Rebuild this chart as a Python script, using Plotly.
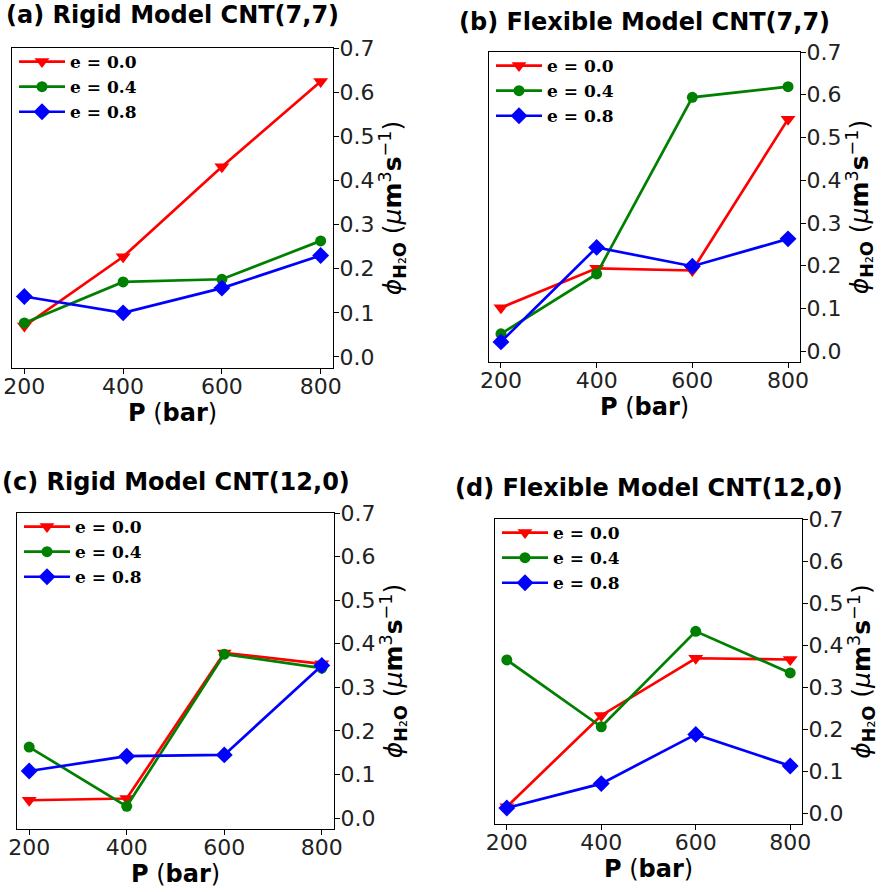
import plotly.graph_objects as go

W, H = 885, 892

# ---------------- data ----------------
pressure = [200, 400, 600, 800]
series_labels = ["e = 0.0", "e = 0.4", "e = 0.8"]
panel_titles = ["(a) Rigid Model CNT(7,7)", "(b) Flexible Model CNT(7,7)",
                "(c) Rigid Model CNT(12,0)", "(d) Flexible Model CNT(12,0)"]
y_ticks = [0.0, 0.1, 0.2, 0.3, 0.4, 0.5, 0.6, 0.7]

a_e00 = [0.070, 0.227, 0.431, 0.624]
a_e04 = [0.077, 0.170, 0.176, 0.263]
a_e08 = [0.137, 0.100, 0.156, 0.230]

b_e00 = [0.102, 0.194, 0.189, 0.543]
b_e04 = [0.041, 0.181, 0.594, 0.619]
b_e08 = [0.022, 0.243, 0.199, 0.263]

c_e00 = [0.041, 0.045, 0.379, 0.354]
c_e04 = [0.163, 0.027, 0.376, 0.344]
c_e08 = [0.108, 0.142, 0.145, 0.350]

d_e00 = [0.016, 0.233, 0.369, 0.366]
d_e04 = [0.365, 0.206, 0.433, 0.334]
d_e08 = [0.013, 0.071, 0.188, 0.113]

panels_data = [
    [a_e00, a_e04, a_e08],
    [b_e00, b_e04, b_e08],
    [c_e00, c_e04, c_e08],
    [d_e00, d_e04, d_e08],
]

# ---------------- style ----------------
colors = ["#ff0000", "#008000", "#0000ff"]
symbols = ["triangle-down", "circle", "diamond"]
msizes = [13, 11, 13]

# axes boxes in pixels: (left, right, top, bottom)
boxes = [
    (12, 333, 48, 368),
    (489, 800, 52, 362),
    (17, 334, 513, 829),
    (495, 802, 519, 824),
]
title_y_px = [15, 22, 482, 488]

tick_font = dict(family="DejaVu Sans", size=22, color="#222")
xtitle_font = dict(family="DejaVu Sans", size=24, color="black")
ytitle_font = dict(family="DejaVu Sans", size=25, color="black")
legend_font = dict(family="DejaVu Serif", size=17, color="black")

ylabel = ("<i>ϕ</i><sub><b>H</b>₂<b>O</b></sub> "
          "(<i>μ</i><b>m</b><sup>3</sup><b>s</b><sup>−1</sup>)")
xlabel = "<b>P</b> (<b>bar</b>)"

fig = go.Figure()
layout = dict(
    width=W, height=H,
    margin=dict(l=0, r=0, t=0, b=0, pad=0),
    paper_bgcolor="white", plot_bgcolor="white",
    annotations=[],
)

for i, (box, data) in enumerate(zip(boxes, panels_data)):
    n = "" if i == 0 else str(i + 1)
    xa, ya = "x" + n, "y" + n
    leg = "legend" + n
    L, R, T, B = box
    for j in range(3):
        fig.add_trace(go.Scatter(
            x=pressure, y=data[j], mode="lines+markers",
            name="<b>" + series_labels[j] + "</b>",
            line=dict(color=colors[j], width=2.7),
            marker=dict(symbol=symbols[j], size=msizes[j], color=colors[j]),
            xaxis=xa, yaxis=ya, legend=leg, showlegend=True,
        ))
    layout["xaxis" + n] = dict(
        domain=[L / W, R / W], anchor=ya, automargin=False,
        range=[175, 825], tickvals=pressure,
        ticks="outside", ticklen=5, tickwidth=1.2, tickcolor="black",
        ticklabelstandoff=-7,
        showline=True, linecolor="black", linewidth=1.3, mirror=True,
        showgrid=False, zeroline=False, tickfont=tick_font,
        title=dict(text=xlabel, font=xtitle_font, standoff=0),
    )
    layout["yaxis" + n] = dict(
        domain=[1 - B / H, 1 - T / H], anchor=xa, side="right", automargin=False,
        range=[-0.025, 0.7], tickvals=y_ticks, tickformat=".1f",
        ticks="outside", ticklen=5, tickwidth=1.2, tickcolor="black",
        ticklabelstandoff=-4,
        showline=True, linecolor="black", linewidth=1.3, mirror=True,
        showgrid=False, zeroline=False, tickfont=tick_font,
        title=dict(text=ylabel, font=ytitle_font, standoff=4),
    )
    layout[leg] = dict(
        x=(L + 2) / W, y=1 - (T - 4) / H, xanchor="left", yanchor="top",
        bgcolor="rgba(255,255,255,0)", borderwidth=0,
        font=legend_font, tracegroupgap=0, itemwidth=46,
    )
    layout["annotations"].append(dict(
        text="<b>" + panel_titles[i] + "</b>",
        x=(L + R) / 2 / W, y=1 - title_y_px[i] / H,
        xref="paper", yref="paper", xanchor="center", yanchor="middle",
        showarrow=False, font=dict(family="DejaVu Sans", size=24, color="black"),
    ))

fig.update_layout(**layout)
fig.write_html("out.html", config={"displayModeBar": False},
               post_script="document.body.style.margin='0px';")
